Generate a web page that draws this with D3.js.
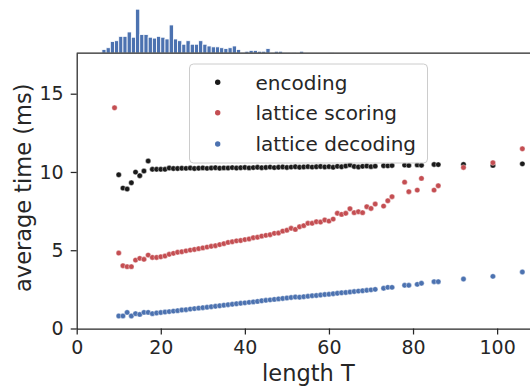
<!DOCTYPE html>
<html>
<head>
<meta charset="utf-8">
<script src="https://cdn.jsdelivr.net/npm/d3@7"></script>
<style>
  html, body { margin: 0; padding: 0; background: #fff; }
  svg { display: block; font-family: "DejaVu Sans", sans-serif; }
</style>
</head>
<body>
<div id="chart"></div>
<script>
// sequence lengths at which timings were averaged
const lengths = [9, 10, 11, 12, 13, 14, 15, 16, 17, 18, 19, 20, 21, 22, 23, 24, 25, 26, 27, 28, 29,
  30, 31, 32, 33, 34, 35, 36, 37, 38, 39, 40, 41, 42, 43, 44, 45, 46, 47, 48, 49,
  50, 51, 52, 53, 54, 55, 56, 57, 58, 59, 60, 61, 62, 63, 64, 65, 66, 67, 68, 69,
  70, 71, 73, 74, 75, 78, 79, 81, 82, 85, 86, 92, 99, 106];

const encoding = [null, 9.82, 8.97, 8.91, 9.31, 9.99, 9.76, 10.06, 10.70, 10.17, 10.17, 10.17, 10.17, 10.25, 10.22, 10.22, 10.24, 10.23, 10.25, 10.22, 10.24,
  10.26, 10.23, 10.25, 10.27, 10.24, 10.26, 10.25, 10.28, 10.25, 10.27, 10.29, 10.26, 10.28, 10.30, 10.27, 10.29, 10.31, 10.28, 10.30, 10.32,
  10.29, 10.31, 10.33, 10.30, 10.32, 10.34, 10.31, 10.33, 10.35, 10.32, 10.34, 10.30, 10.36, 10.33, 10.38, 10.45, 10.35, 10.32, 10.36, 10.38,
  10.34, 10.37, 10.40, 10.39, 10.41, 10.44, 10.42, 10.45, 10.43, 10.48, 10.47, 10.48, 10.42, 10.52];

const latticeScoring = [14.1, 4.82, 4.01, 3.95, 3.95, 4.37, 4.48, 4.42, 4.69, 4.54, 4.54, 4.58, 4.63, 4.74, 4.80, 4.87, 4.90, 4.96, 5.01, 5.05, 5.10,
  5.15, 5.20, 5.25, 5.29, 5.36, 5.42, 5.50, 5.54, 5.60, 5.62, 5.68, 5.72, 5.80, 5.83, 5.90, 5.95, 5.99, 6.08, 6.10, 6.22,
  6.28, 6.40, 6.33, 6.50, 6.57, 6.72, 6.72, 6.82, 6.80, 6.93, 6.86, 6.99, 7.36, 7.29, 7.36, 7.65, 7.40, 7.46, 7.40, 7.78,
  7.67, 7.95, 7.82, 8.16, 8.42, 9.35, 8.74, 8.84, 9.59, 8.84, 9.12, 10.29, 10.59, 11.48];

const latticeDecoding = [null, 0.80, 0.80, 1.03, 0.80, 0.95, 0.90, 1.03, 1.03, 0.95, 0.99, 1.02, 1.05, 1.08, 1.11, 1.14, 1.18, 1.20, 1.24, 1.27, 1.30,
  1.33, 1.36, 1.39, 1.42, 1.45, 1.49, 1.52, 1.55, 1.58, 1.61, 1.64, 1.67, 1.70, 1.73, 1.77, 1.80, 1.83, 1.86, 1.89, 1.92,
  1.95, 1.98, 2.01, 2.00, 2.03, 2.06, 2.09, 2.11, 2.14, 2.17, 2.19, 2.22, 2.25, 2.28, 2.30, 2.33, 2.36, 2.39, 2.41, 2.44,
  2.47, 2.50, 2.57, 2.63, 2.63, 2.76, 2.76, 2.82, 2.89, 2.99, 2.99, 3.16, 3.33, 3.61];

// histogram of sequence lengths (bin start, count)
const histBins = [6, 7, 8, 9, 10, 11, 12, 13, 14, 15, 16, 17, 18, 19, 20, 21, 22, 23, 24, 25, 26, 27, 28,
  29, 30, 31, 32, 33, 34, 35, 36, 37, 38, 39, 40, 41, 42, 43, 44, 45, 46, 47, 48, 49, 50, 51, 53, 60];
const histCounts = [4, 6, 13, 14, 19, 19, 24, 18, 50, 21, 21, 18, 17, 19, 18, 16, 32, 16, 14, 10, 14, 10, 10,
  14, 10, 8, 7, 7, 6, 5, 6, 8, 4, 1, 2, 3, 3, 2, 2, 5, 1, 2, 2, 1, 1, 1, 2, 1];

const seriesNames = ["encoding", "lattice scoring", "lattice decoding"];
const seriesColors = ["#1a1a1a", "#c44e52", "#4c72b0"];
const seriesValues = [encoding, latticeScoring, latticeDecoding];

const xTicks = [0, 20, 40, 60, 80, 100];
const yTicks = [0, 5, 10, 15];

const width = 530, height = 387;
const textColor = "#262626";

const svg = d3.select("#chart").append("svg")
  .attr("width", width)
  .attr("height", height);

const x = d3.scaleLinear().domain([0, 110.2]).range([76.7, 540]);
const y = d3.scaleLinear().domain([0, 17.6]).range([328.5, 53]);
const yHist = d3.scaleLinear().domain([0, 52.5]).range([53, 7]);

// marginal histogram on top
svg.append("g")
  .selectAll("rect")
  .data(histBins.map((b, i) => ({ b, c: histCounts[i] })))
  .join("rect")
  .attr("x", d => x(d.b))
  .attr("width", d => x(d.b + 1) - x(d.b))
  .attr("y", d => yHist(d.c))
  .attr("height", d => yHist(0) - yHist(d.c))
  .attr("fill", "#4c72b0")
  .attr("stroke", "#fff")
  .attr("stroke-width", 0.8);

// scatter points
seriesValues.forEach((vals, si) => {
  const pts = lengths.map((t, i) => ({ t, v: vals[i] })).filter(d => d.v != null);
  svg.append("g")
    .selectAll("circle")
    .data(pts)
    .join("circle")
    .attr("cx", d => x(d.t))
    .attr("cy", d => y(d.v))
    .attr("r", 2.7)
    .attr("fill", seriesColors[si])
    .attr("stroke", "#fff")
    .attr("stroke-width", 0.4);
});

// axes
const xAxis = svg.append("g")
  .attr("transform", `translate(0,${y(0)})`)
  .call(d3.axisBottom(x).tickValues(xTicks).tickSize(6).tickPadding(6).tickSizeOuter(0));
const yAxis = svg.append("g")
  .attr("transform", `translate(${x(0)},0)`)
  .call(d3.axisLeft(y).tickValues(yTicks).tickSize(6).tickPadding(7).tickSizeOuter(0));

[xAxis, yAxis].forEach(ax => {
  ax.select(".domain").attr("stroke", textColor).attr("stroke-width", 1.25);
  ax.selectAll(".tick line").attr("stroke", textColor).attr("stroke-width", 1.25);
  ax.selectAll(".tick text")
    .attr("fill", textColor)
    .style("font-size", "19px")
    .style("font-family", "DejaVu Sans");
});

// top spine
svg.append("line")
  .attr("x1", x(0)).attr("x2", 540)
  .attr("y1", y(17.6)).attr("y2", y(17.6))
  .attr("stroke", textColor).attr("stroke-width", 1.25);

// axis labels
svg.append("text")
  .attr("x", (x.range()[0] + x.range()[1]) / 2)
  .attr("y", 381)
  .attr("text-anchor", "middle")
  .attr("fill", textColor)
  .style("font-size", "22.5px")
  .text("length T");

svg.append("text")
  .attr("transform", `translate(31,${(y.range()[0] + y.range()[1]) / 2 - 3}) rotate(-90)`)
  .attr("text-anchor", "middle")
  .attr("fill", textColor)
  .style("font-size", "22.5px")
  .text("average time (ms)");

// legend
const legend = svg.append("g");
legend.append("rect")
  .attr("x", 189.5).attr("y", 64)
  .attr("width", 238).attr("height", 99)
  .attr("rx", 4)
  .attr("fill", "#fff").attr("fill-opacity", 0.8)
  .attr("stroke", "#cccccc").attr("stroke-width", 1);

const rowY = [82.3, 112.8, 144];
seriesNames.forEach((name, i) => {
  legend.append("circle")
    .attr("cx", 217.7).attr("cy", rowY[i])
    .attr("r", 2.7)
    .attr("fill", seriesColors[i]);
  legend.append("text")
    .attr("x", 255.5).attr("y", rowY[i])
    .attr("dy", "0.36em")
    .attr("fill", textColor)
    .style("font-size", "20px")
    .text(name);
});
</script>
</body>
</html>
